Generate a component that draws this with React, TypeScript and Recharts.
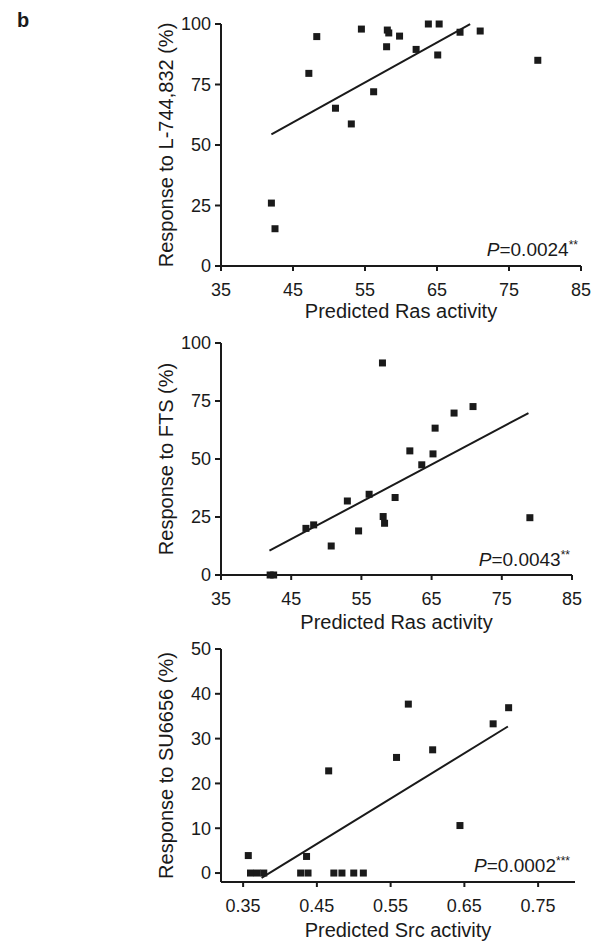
import React from 'react';
import { ScatterChart, Scatter, XAxis, YAxis, ReferenceLine } from 'recharts';

// Panel 1: Predicted Ras activity vs response to L-744,832 (%)
const rasX1 = [42.0, 42.5, 47.2, 48.3, 50.9, 53.1, 54.5, 56.2, 58.0, 58.1, 58.3, 59.8, 62.1, 63.8, 65.3, 65.1, 68.2, 71.0, 79.0];
const l744Y = [26.0, 15.4, 79.6, 94.8, 65.2, 58.7, 97.9, 72.0, 90.6, 97.5, 96.3, 95.0, 89.5, 100, 100, 87.2, 96.6, 97.1, 85.0];
const fit1X = [42.0, 69.6];
const fit1Y = [54.4, 99.9];

// Panel 2: Predicted Ras activity vs response to FTS (%)
const rasX2 = [42.0, 42.5, 47.1, 48.2, 50.7, 53.0, 54.6, 56.1, 58.0, 58.1, 58.3, 59.8, 61.9, 63.6, 65.2, 65.5, 68.2, 70.9, 79.0];
const ftsY = [0, 0, 20.1, 21.6, 12.5, 31.9, 19.0, 34.8, 91.4, 25.2, 22.3, 33.4, 53.5, 47.5, 52.2, 63.3, 69.8, 72.6, 24.7];
const fit2X = [41.9, 78.8];
const fit2Y = [10.5, 69.8];

// Panel 3: Predicted Src activity vs response to SU6656 (%)
const srcX = [0.357, 0.360, 0.369, 0.378, 0.428, 0.438, 0.436, 0.466, 0.473, 0.484, 0.500, 0.513, 0.558, 0.574, 0.607, 0.644, 0.689, 0.710];
const suY = [3.9, 0, 0, 0, 0, 0, 3.7, 22.8, 0, 0, 0, 0, 25.8, 37.7, 27.5, 10.6, 33.3, 36.9];
const fit3X = [0.375, 0.709];
const fit3Y = [-1.1, 32.7];

const rasTicks = [35, 45, 55, 65, 75, 85];
const pctTicks100 = [0, 25, 50, 75, 100];
const srcTicks = [0.35, 0.45, 0.55, 0.65, 0.75];
const pctTicks50 = [0, 10, 20, 30, 40, 50];

const zip = (xs: number[], ys: number[]) => xs.map((x, i) => ({ x, y: ys[i] }));

const INK = '#1a1a1a';
const FONT = '"Liberation Sans", Arial, Helvetica, sans-serif';

const Square = (props: any) => {
  const { cx, cy } = props;
  if (cx == null || cy == null) return null;
  return <rect x={cx - 3.5} y={cy - 3.5} width={7} height={7} fill={INK} />;
};

type PanelProps = {
  top: number;
  height: number;
  margin: { top: number; right: number; bottom: number; left: number };
  data: { x: number; y: number }[];
  fit: { x: number; y: number }[];
  xDomain: [number, number];
  yDomain: [number, number];
  xTicks: number[];
  yTicks: number[];
  xLabel: string;
  yLabel: string;
  xAxisHeight: number;
  xFmt?: (v: number) => string;
};

const Panel = (p: PanelProps) => (
  <div style={{ position: 'absolute', left: 0, top: p.top }}>
    <ScatterChart width={595} height={p.height} margin={p.margin}>
      <XAxis
        type="number"
        dataKey="x"
        domain={p.xDomain}
        ticks={p.xTicks}
        interval={0}
        height={p.xAxisHeight}
        tickSize={5}
        tickMargin={12}
        tickFormatter={p.xFmt}
        axisLine={{ stroke: INK, strokeWidth: 2 }}
        tickLine={{ stroke: INK, strokeWidth: 2 }}
        tick={{ fill: INK, fontSize: 18, fontFamily: FONT }}
        label={{ value: p.xLabel, position: 'center', fill: INK, fontSize: 20, fontFamily: FONT }}
      />
      <YAxis
        type="number"
        dataKey="y"
        domain={p.yDomain}
        ticks={p.yTicks}
        interval={0}
        width={110}
        tickSize={6}
        tickMargin={4}
        axisLine={{ stroke: INK, strokeWidth: 2 }}
        tickLine={{ stroke: INK, strokeWidth: 2 }}
        tick={{ fill: INK, fontSize: 18, fontFamily: FONT }}
        label={{ value: p.yLabel, angle: -90, position: 'center', fill: INK, fontSize: 20, fontFamily: FONT }}
      />
      <ReferenceLine segment={p.fit} stroke={INK} strokeWidth={2} ifOverflow="visible" />
      <Scatter data={p.data} shape={Square} isAnimationActive={false} />
    </ScatterChart>
  </div>
);

const PText = ({ x, y, value, stars }: { x: number; y: number; value: string; stars: string }) => (
  <text x={x} y={y} textAnchor="end" fill={INK} fontSize={19} fontFamily={FONT}>
    <tspan fontStyle="italic">P</tspan>
    <tspan>{'=' + value}</tspan>
    <tspan fontSize={12} dy={-7}>{stars}</tspan>
  </text>
);

export default function App() {
  return (
    <div style={{ position: 'absolute', left: 0, top: 0, width: 595, height: 941, background: '#fff', fontFamily: FONT }}>
      <Panel
        top={0}
        height={356}
        margin={{ top: 24, right: 14, bottom: 0, left: 111 }}
        data={zip(rasX1, l744Y)}
        fit={zip(fit1X, fit1Y)}
        xDomain={[35, 85]}
        yDomain={[0, 100]}
        xTicks={rasTicks}
        yTicks={pctTicks100}
        xLabel="Predicted Ras activity"
        yLabel="Response to L-744,832 (%)"
        xAxisHeight={90}
      />
      <Panel
        top={300}
        height={369}
        margin={{ top: 43, right: 23, bottom: 0, left: 111 }}
        data={zip(rasX2, ftsY)}
        fit={zip(fit2X, fit2Y)}
        xDomain={[35, 85]}
        yDomain={[0, 100]}
        xTicks={rasTicks}
        yTicks={pctTicks100}
        xLabel="Predicted Ras activity"
        yLabel="Response to FTS (%)"
        xAxisHeight={94}
      />
      <Panel
        top={620}
        height={358}
        margin={{ top: 29, right: 20, bottom: 0, left: 111 }}
        data={zip(srcX, suY)}
        fit={zip(fit3X, fit3Y)}
        xDomain={[0.32, 0.8]}
        yDomain={[-2, 50]}
        xTicks={srcTicks}
        yTicks={pctTicks50}
        xLabel="Predicted Src activity"
        yLabel="Response to SU6656 (%)"
        xAxisHeight={96}
        xFmt={(v: number) => v.toFixed(2)}
      />
      <svg width={595} height={941} style={{ position: 'absolute', left: 0, top: 0, pointerEvents: 'none' }}>
        <text x={17} y={27} fontSize={20} fontWeight="bold" fill={INK} fontFamily={FONT}>b</text>
        <PText x={578} y={256} value="0.0024" stars="**" />
        <PText x={570} y={566} value="0.0043" stars="**" />
        <PText x={570} y={872} value="0.0002" stars="***" />
      </svg>
    </div>
  );
}
